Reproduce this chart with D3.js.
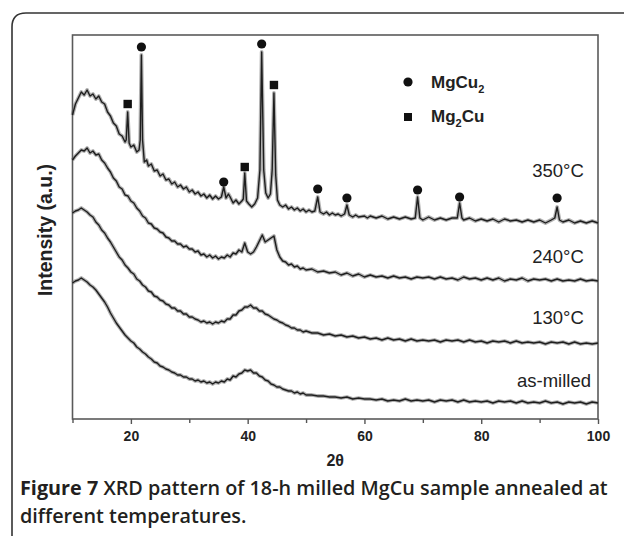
<!DOCTYPE html>
<html><head><meta charset="utf-8">
<script src="https://cdn.jsdelivr.net/npm/d3@7"></script>
<style>body{margin:0;background:#fff} svg{display:block}</style>
</head><body><svg id="c" width="624" height="536"></svg>
<script>
// ---------- data ----------
const seriesNames = ["350°C", "240°C", "130°C", "as-milled"];
const xTicks = [20, 40, 60, 80, 100];
const xMinorTicks = [10, 30, 50, 70, 90];
const legendNames = ["MgCu2", "Mg2Cu"];

const angle350 = [10,10.5,11,11.5,12,12.5,13,13.5,14,14.5,15,15.5,16,16.5,17,17.5,18,18.5,19,19.2,
19.45,19.7,20,20.5,21,21.4,21.6,21.8,22.0,22.3,22.7,23,23.5,24,24.5,25,25.5,26,26.5,27,
27.5,28,28.5,29,29.5,30,30.5,31,31.5,32,32.5,33,33.5,34,34.5,35,35.5,35.9,36.3,36.7,
37,37.5,38,38.5,39,39.25,39.5,39.8,40.2,40.7,41.2,41.7,42.1,42.4,42.75,43.1,43.5,43.9,44.2,44.5,
44.8,45.1,45.5,46,46.5,47,47.5,48,48.5,49,49.5,50,50.5,51,51.5,52.0,52.4,53,53.5,54,
54.5,55,55.5,56,56.6,57.0,57.4,58,58.5,59,60,60.5,61,62,63,64,65,66,67,68,
68.7,69.1,69.5,70,71,72,73,74,75,75.9,76.3,76.7,77,78,79,80,81,82,83,84,
85,86,87,88,89,90,91,92,92.6,93.0,93.4,94,95,96,97,98,99,100];
const int350 = [304,315,321,327,324,329,323,325,320,323,317,315,307,303,296,293,285,283,277,279,
307,276,272,274,267,269,279,364,279,257,259,253,255,248,249,243,245,239,240,235,
237,232,234,230,232,227,229,225,227,223,225,221,224,220,223,220,222,232,221,225,
222,216,219,215,218,220,246,218,215,212,215,221,249,367,249,226,221,225,249,326,
244,219,214,212,214,210,212,209,211,208,210,207,209,207,208,222,207,205,207,204,
206,204,205,203,205,214,204,202,204,202,203,201,203,201,203,200,202,200,202,200,
201,222,201,199,202,199,201,199,201,201,216,201,199,201,198,200,198,200,197,200,
198,199,197,199,197,199,196,199,201,212,199,197,199,196,198,196,198,196];

const angleGrid = [10,10.5,11,11.5,12,12.5,13,13.5,14,14.5,15,15.5,16,16.5,17,17.5,18,18.5,19,19.5,
20,20.5,21,21.5,22,22.5,23,23.5,24,24.5,25,25.5,26,26.5,27,27.5,28,28.5,29,29.5,
30,30.5,31,31.5,32,32.5,33,33.5,34,34.5,35,35.5,36,36.5,37,37.5,38,38.5,39,39.5,
40,40.5,41,41.5,42,42.5,43,43.5,44,44.5,45,45.5,46,46.5,47,47.5,48,48.5,49,49.5,50,
51,52,53,54,55,56,57,58,59,60,61,62,63,64,65,66,67,68,69,70,
71,72,73,74,75,76,77,78,79,80,81,82,83,84,85,86,87,88,89,90,
91,92,93,94,95,96,97,98,99,100];
const int240 = [259,263,266,269,268,271,266,268,264,265,259,256,251,247,241,238,232,230,224,223,
218,216,211,208,203,201,196,195,191,190,187,186,182,181,178,178,175,175,172,173,
170,170,167,168,164,165,162,164,161,163,160,162,161,164,162,166,165,169,167,176,
167,165,167,172,178,184,177,179,181,183,169,162,158,157,154,155,152,153,150,151,149,
150,147,148,146,147,144,146,143,145,142,144,142,143,141,143,141,142,140,142,141,
142,140,142,140,141,139,142,140,141,139,141,139,141,138,140,139,141,138,140,139,
140,138,140,138,139,138,140,138,139,138];
const int130 = [206,208,209,211,209,207,204,202,197,194,189,186,181,177,172,167,162,159,154,151,
147,145,140,138,134,132,128,127,123,122,119,118,115,114,111,111,108,108,105,105,
102,102,100,99,97,98,96,97,95,97,96,98,97,100,100,104,104,108,109,112,
112,114,111,111,108,108,105,104,102,100,99,97,96,94,93,91,91,89,89,87,88,
86,86,84,85,83,84,82,83,81,82,80,81,79,81,79,80,78,80,78,79,
78,79,77,79,78,79,77,79,77,78,76,78,77,78,76,78,76,77,76,77,
75,77,76,77,75,77,75,76,75,76];
const intMilled = [136,138,139,141,139,137,134,132,129,125,121,117,112,106,101,96,92,88,84,81,
78,76,72,70,67,65,62,60,57,56,53,52,50,49,47,46,44,44,42,42,
40,40,38,39,37,38,36,37,35,37,36,38,37,40,39,43,42,45,46,49,
48,49,46,46,43,42,39,38,35,34,32,32,30,29,28,28,26,27,25,26,24,
24,23,23,22,22,21,22,20,21,20,20,19,20,18,19,18,20,18,19,18,
19,17,19,18,19,17,19,17,18,17,18,16,18,17,18,16,18,16,17,16,
18,16,17,15,17,16,17,15,17,16];

const mgcu2Angle = [21.8, 35.9, 42.4, 52.0, 57.0, 69.1, 76.3, 93.0];
const mgcu2Level = [372, 237, 375, 230, 221, 229, 222, 221];
const mg2cuAngle = [19.45, 39.5, 44.5];
const mg2cuLevel = [315, 252, 334];

// ---------- layout ----------
const W = 624, H = 536;
const L = 72.5, R = 598, T = 35, B = 419;
const svg = d3.select("#c");
const x = d3.scaleLinear().domain([10, 100]).range([L, R]);
const y = d3.scaleLinear().domain([0, 384]).range([B, T]);
const ink = "#1e1e1e";

// outer rounded border (open at bottom/right, cropped figure panel)
svg.append("path")
  .attr("d", `M12,${H} V27 Q12,13 26,13 H${W}`)
  .attr("fill", "none").attr("stroke", "#333").attr("stroke-width", 1.6);

// plot frame
svg.append("rect").attr("x", L).attr("y", T).attr("width", R - L).attr("height", B - T)
  .attr("fill", "none").attr("stroke", "#5a5a5a").attr("stroke-width", 1.6);

// x axis
const ax = svg.append("g").attr("transform", `translate(0,${B})`)
  .call(d3.axisBottom(x).tickValues(xTicks).tickSize(5).tickPadding(7).tickFormat(d3.format("d")));
ax.select(".domain").remove();
ax.selectAll("line").attr("stroke", "#555").attr("stroke-width", 1.4);
ax.selectAll("text").attr("font-family", "Liberation Sans, Arial, sans-serif")
  .attr("font-size", 14).attr("font-weight", "bold").attr("fill", "#222");
const axm = svg.append("g").attr("transform", `translate(0,${B})`)
  .call(d3.axisBottom(x).tickValues(xMinorTicks).tickSize(4).tickFormat(""));
axm.select(".domain").remove();
axm.selectAll("line").attr("stroke", "#555").attr("stroke-width", 1.4);

// axis titles
svg.append("text").attr("x", (L + R) / 2).attr("y", 466).attr("text-anchor", "middle")
  .attr("font-family", "Liberation Sans, Arial, sans-serif").attr("font-size", 16)
  .attr("font-weight", "bold").attr("fill", "#222")
  .text("2\u03B8");
svg.append("text").attr("transform", "translate(52,230) rotate(-90)").attr("text-anchor", "middle")
  .attr("font-family", "Liberation Sans, Arial, sans-serif").attr("font-size", 19.5)
  .attr("font-weight", "bold").attr("fill", "#222")
  .text("Intensity (a.u.)");

// curves
const curves = [
  angle350.map((a, i) => [a, int350[i]]),
  angleGrid.map((a, i) => [a, int240[i]]),
  angleGrid.map((a, i) => [a, int130[i]]),
  angleGrid.map((a, i) => [a, intMilled[i]])
];
const line = d3.line().x(d => x(d[0])).y(d => y(d[1]));
const gC = svg.append("g");
curves.forEach(c => {
  gC.append("path").attr("d", line(c)).attr("fill", "none")
    .attr("stroke", "#666").attr("stroke-opacity", 0.5).attr("stroke-width", 3.8)
    .attr("stroke-linejoin", "round");
  gC.append("path").attr("d", line(c)).attr("fill", "none")
    .attr("stroke", ink).attr("stroke-width", 1.4).attr("stroke-linejoin", "round");
});

// phase markers
svg.append("g").selectAll("circle").data(mgcu2Angle).join("circle")
  .attr("cx", d => x(d)).attr("cy", (d, i) => y(mgcu2Level[i])).attr("r", 4.6).attr("fill", "#111");
svg.append("g").selectAll("rect").data(mg2cuAngle).join("rect")
  .attr("x", d => x(d) - 4.2).attr("y", (d, i) => y(mg2cuLevel[i]) - 4.2)
  .attr("width", 8.4).attr("height", 8.4).attr("fill", "#111");

// curve labels
const labelPos = [[558, 177], [558, 263], [558, 324], [554, 387]];
seriesNames.forEach((n, i) => {
  svg.append("text").attr("x", labelPos[i][0]).attr("y", labelPos[i][1]).attr("text-anchor", "middle")
    .attr("font-family", "Liberation Sans, Arial, sans-serif").attr("font-size", 18.5)
    .attr("fill", "#222").text(n);
});

// legend
const lg = svg.append("g").attr("font-family", "Liberation Sans, Arial, sans-serif")
  .attr("font-weight", "bold").attr("fill", "#222");
lg.append("circle").attr("cx", 408).attr("cy", 82).attr("r", 4.6).attr("fill", "#111");
lg.append("rect").attr("x", 404).attr("y", 113).attr("width", 8).attr("height", 8).attr("fill", "#111");
const t1 = lg.append("text").attr("x", 431).attr("y", 88).attr("font-size", 17);
t1.append("tspan").text("MgCu");
t1.append("tspan").attr("font-size", 11).attr("dy", 5).text("2");
const t2 = lg.append("text").attr("x", 431).attr("y", 122).attr("font-size", 17);
t2.append("tspan").text("Mg");
t2.append("tspan").attr("font-size", 11).attr("dy", 5).text("2");
t2.append("tspan").attr("dy", -5).text("Cu");

// caption
const cap = svg.append("g").attr("font-family", "'Open Sans', 'Noto Sans', sans-serif").attr("fill", "#231f20");
const c1 = cap.append("text").attr("x", 20).attr("y", 495).attr("font-size", 18);
c1.append("tspan").attr("font-weight", 700).text("Figure 7");
c1.append("tspan").attr("font-weight", 600).text(" XRD pattern of 18-h milled MgCu sample annealed at");
const w1 = c1.node().getComputedTextLength();
const fs = 18 * 588 / w1;
c1.attr("font-size", fs);
cap.append("text").attr("x", 20).attr("y", 523).attr("font-size", fs).attr("font-weight", 600)
  .text("different temperatures.");
</script>
</body></html>
